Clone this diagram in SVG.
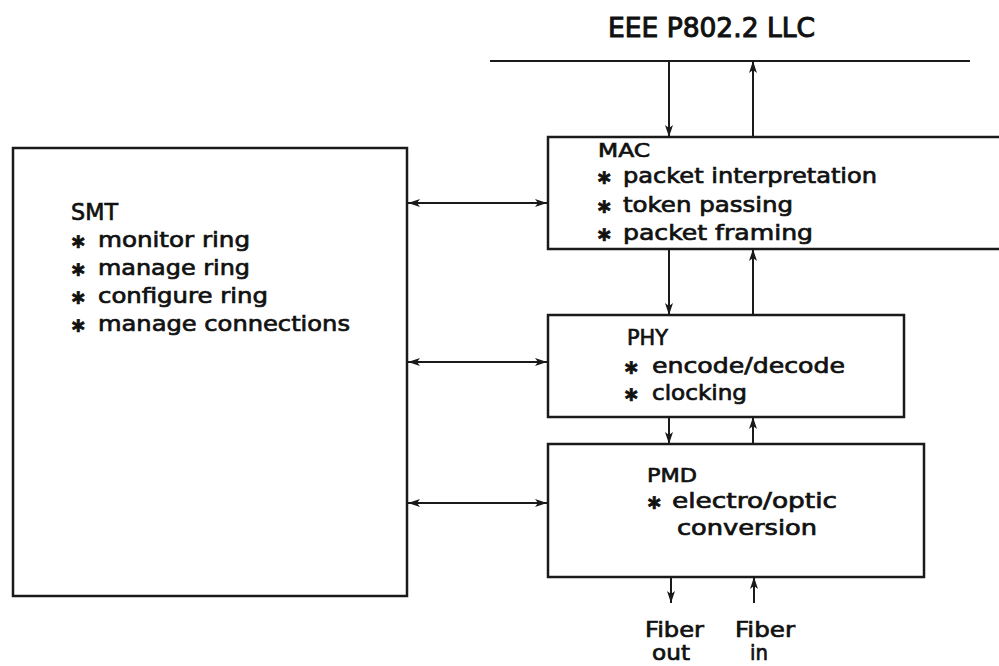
<svg xmlns="http://www.w3.org/2000/svg" width="999" height="666" viewBox="0 0 999 666">
<style>
  .box { fill: #ffffff; stroke: #1a1a1a; stroke-width: 2.5; }
  .ln { fill: none; stroke: #1a1a1a; stroke-width: 2; }
  text { font-family: "DejaVu Sans", "Liberation Sans", sans-serif; fill: #111111; stroke: #111111; stroke-width: 0.7; }
  .t { font-size: 21px; }
  .b { font-size: 20px; font-weight: bold; }
</style>
<defs>
  <marker id="ah" viewBox="0 0 12 10" refX="12" refY="5" markerWidth="12" markerHeight="10" markerUnits="userSpaceOnUse" orient="auto-start-reverse">
    <path d="M0,1 L12,5 L0,9 L3,5 Z" fill="#1a1a1a"/>
  </marker>
</defs>
<rect width="999" height="666" fill="#ffffff"/>

<g id="llc">
  <text x="608" y="37" style="font-size:26px;stroke-width:1" textLength="207" lengthAdjust="spacingAndGlyphs">EEE P802.2 LLC</text>
  <line class="ln" x1="490" y1="61" x2="970" y2="61"/>
</g>

<g id="smt">
  <rect class="box" x="13" y="148" width="394" height="448"/>
  <text x="71" y="220" style="font-size:23px" textLength="47" lengthAdjust="spacingAndGlyphs">SMT</text>
  <text class="b" x="70" y="248">∗</text>
  <text class="t" x="98" y="247" textLength="152" lengthAdjust="spacingAndGlyphs">monitor ring</text>
  <text class="b" x="70" y="276">∗</text>
  <text class="t" x="98" y="275" textLength="152" lengthAdjust="spacingAndGlyphs">manage ring</text>
  <text class="b" x="70" y="304">∗</text>
  <text class="t" x="98" y="303" textLength="170" lengthAdjust="spacingAndGlyphs">configure ring</text>
  <text class="b" x="70" y="332">∗</text>
  <text class="t" x="98" y="331" textLength="252" lengthAdjust="spacingAndGlyphs">manage connections</text>
</g>

<g id="mac">
  <path class="box" d="M1005,137 H548 V249 H1005"/>
  <text x="598" y="157" style="font-size:19px" textLength="52" lengthAdjust="spacingAndGlyphs">MAC</text>
  <text class="b" x="596" y="184">∗</text>
  <text class="t" x="623" y="183" textLength="254" lengthAdjust="spacingAndGlyphs">packet interpretation</text>
  <text class="b" x="596" y="213">∗</text>
  <text class="t" x="623" y="212" textLength="170" lengthAdjust="spacingAndGlyphs">token passing</text>
  <text class="b" x="596" y="241">∗</text>
  <text class="t" x="623" y="240" textLength="190" lengthAdjust="spacingAndGlyphs">packet framing</text>
</g>

<g id="phy">
  <rect class="box" x="548" y="315" width="356" height="102"/>
  <text x="627" y="345" style="font-size:21px" textLength="41" lengthAdjust="spacingAndGlyphs">PHY</text>
  <text class="b" x="623" y="374">∗</text>
  <text class="t" x="652" y="373" textLength="193" lengthAdjust="spacingAndGlyphs">encode/decode</text>
  <text class="b" x="623" y="401">∗</text>
  <text class="t" x="652" y="400" textLength="95" lengthAdjust="spacingAndGlyphs">clocking</text>
</g>

<g id="pmd">
  <rect class="box" x="548" y="444" width="376" height="133"/>
  <text x="647" y="482" style="font-size:20px" textLength="50" lengthAdjust="spacingAndGlyphs">PMD</text>
  <text class="b" x="646" y="509">∗</text>
  <text class="t" x="672" y="508" textLength="165" lengthAdjust="spacingAndGlyphs">electro/optic</text>
  <text class="t" x="677" y="535" textLength="140" lengthAdjust="spacingAndGlyphs">conversion</text>
</g>

<g id="fiber-labels">
  <text class="t" x="645" y="637" textLength="59" lengthAdjust="spacingAndGlyphs">Fiber</text>
  <text class="t" x="652" y="660" textLength="38" lengthAdjust="spacingAndGlyphs">out</text>
  <text class="t" x="735" y="637" textLength="60" lengthAdjust="spacingAndGlyphs">Fiber</text>
  <text class="t" x="750" y="660" textLength="18" lengthAdjust="spacingAndGlyphs">in</text>
</g>

<g id="connectors">
  <line class="ln" x1="669" y1="61" x2="669" y2="137" marker-end="url(#ah)"/>
  <line class="ln" x1="753" y1="137" x2="753" y2="61" marker-end="url(#ah)"/>
  <line class="ln" x1="669" y1="249" x2="669" y2="315" marker-end="url(#ah)"/>
  <line class="ln" x1="753" y1="315" x2="753" y2="249" marker-end="url(#ah)"/>
  <line class="ln" x1="669" y1="417" x2="669" y2="444" marker-end="url(#ah)"/>
  <line class="ln" x1="753" y1="444" x2="753" y2="417" marker-end="url(#ah)"/>
  <line class="ln" x1="671" y1="577" x2="671" y2="603" marker-end="url(#ah)"/>
  <line class="ln" x1="754" y1="603" x2="754" y2="577" marker-end="url(#ah)"/>
  <line class="ln" x1="408" y1="203" x2="547" y2="203" marker-start="url(#ah)" marker-end="url(#ah)"/>
  <line class="ln" x1="408" y1="362" x2="547" y2="362" marker-start="url(#ah)" marker-end="url(#ah)"/>
  <line class="ln" x1="408" y1="503" x2="547" y2="503" marker-start="url(#ah)" marker-end="url(#ah)"/>
</g>
</svg>
